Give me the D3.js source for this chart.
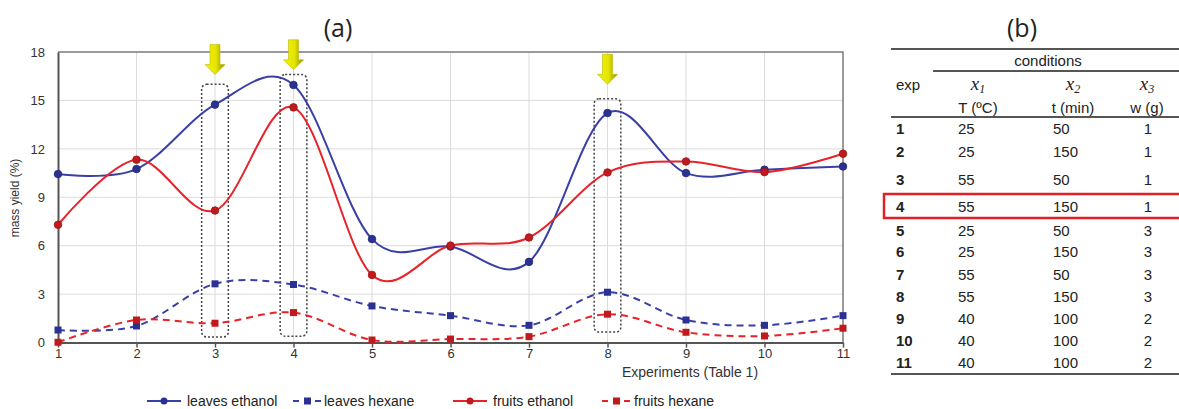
<!DOCTYPE html>
<html>
<head>
<meta charset="utf-8">
<script src="https://cdn.jsdelivr.net/npm/d3@7"></script>
<style>
  html, body { margin: 0; padding: 0; background: #fff; }
  svg { display: block; font-family: "Liberation Sans", Arial, sans-serif; }
</style>
</head>
<body>
<svg id="fig" width="1179" height="409"></svg>
<script>
// ---- data ----
const experiments   = [1, 2, 3, 4, 5, 6, 7, 8, 9, 10, 11];
const leavesEthanol = [10.44, 10.75, 14.74, 15.96, 6.41, 5.95, 5.0, 14.22, 10.5, 10.71, 10.91];
const leavesHexane  = [0.78, 1.03, 3.64, 3.6, 2.27, 1.67, 1.07, 3.12, 1.4, 1.07, 1.67];
const fruitsEthanol = [7.3, 11.33, 8.18, 14.57, 4.19, 6.01, 6.51, 10.54, 11.22, 10.56, 11.7];
const fruitsHexane  = [0.02, 1.4, 1.2, 1.86, 0.16, 0.22, 0.37, 1.76, 0.64, 0.41, 0.89];
const yTicks = [0, 3, 6, 9, 12, 15, 18];

// highlighted experiments (dotted boxes + arrows), extents in yield units
const highlightExp    = [3, 4, 8];
const highlightTop    = [16.0, 16.6, 15.1];
const highlightBottom = [0.35, 0.4, 0.65];
const arrowTip        = [16.6, 16.9, 16.0];

// experimental design table
const tempC   = [25, 25, 55, 55, 25, 25, 55, 55, 40, 40, 40];
const timeMin = [50, 150, 50, 150, 50, 150, 50, 150, 100, 100, 100];
const weightG = [1, 1, 1, 1, 3, 3, 3, 3, 2, 2, 2];
const bestRun = 4;

const series = [
  { name: "leaves ethanol", values: leavesEthanol, color: "#3a3fa6", mark: "#2a3190", dashed: false },
  { name: "leaves hexane",  values: leavesHexane,  color: "#3a3fa6", mark: "#2a3190", dashed: true },
  { name: "fruits ethanol", values: fruitsEthanol, color: "#e8222a", mark: "#c01a1e", dashed: false },
  { name: "fruits hexane",  values: fruitsHexane,  color: "#e8222a", mark: "#c01a1e", dashed: true }
];

const svg = d3.select("#fig");

// ---- panel (a): line chart ----
const x = d3.scaleLinear().domain([1, 11]).range([58, 843]);
const y = d3.scaleLinear().domain([0, 18]).range([342.6, 52]);

const defs = svg.append("defs");
const grad = defs.append("linearGradient").attr("id", "arrowFill")
  .attr("x1", "0%").attr("x2", "100%").attr("y1", "0%").attr("y2", "0%");
grad.append("stop").attr("offset", "0%").attr("stop-color", "#f4f400");
grad.append("stop").attr("offset", "55%").attr("stop-color", "#e4e400");
grad.append("stop").attr("offset", "100%").attr("stop-color", "#8f8f00");

svg.append("text").attr("x", 338).attr("y", 37).attr("text-anchor", "middle")
  .attr("font-family", "'Open Sans', sans-serif").attr("font-size", 25).attr("fill", "#222")
  .text("(a)");

// grid
const grid = svg.append("g").attr("stroke", "#dcdcdc").attr("stroke-width", 1);
grid.selectAll("line.v").data(experiments.slice(1, -1)).join("line")
  .attr("x1", d => x(d)).attr("x2", d => x(d)).attr("y1", y(18)).attr("y2", y(0));
grid.selectAll("line.h").data(yTicks.slice(1, -1)).join("line")
  .attr("x1", x(1)).attr("x2", x(11)).attr("y1", d => y(d)).attr("y2", d => y(d));

// frame (top and right)
svg.append("path")
  .attr("d", `M${x(1)},${y(18)}H${x(11)}V${y(0)}`)
  .attr("fill", "none").attr("stroke", "#7a7a7a").attr("stroke-width", 1.5);

// axes
const xAxis = d3.axisBottom(x).tickValues(experiments).tickFormat(d3.format("d"))
  .tickSize(5).tickSizeOuter(0);
const gx = svg.append("g").attr("transform", `translate(0,${y(0)})`).call(xAxis);
gx.select(".domain").attr("stroke", "#555").attr("stroke-width", 2);
gx.selectAll(".tick line").attr("stroke", "#555").attr("stroke-width", 1.5);
gx.selectAll(".tick text").attr("font-size", 13).attr("fill", "#333")
  .attr("font-family", "'Liberation Sans', Arial, sans-serif").attr("dy", "0.6em");

const yAxis = d3.axisLeft(y).tickValues(yTicks).tickSize(0).tickPadding(13);
const gy = svg.append("g").attr("transform", `translate(${x(1)},0)`).call(yAxis);
gy.select(".domain").attr("stroke", "#555").attr("stroke-width", 2);
gy.selectAll(".tick text").attr("font-size", 13).attr("fill", "#333")
  .attr("font-family", "'Liberation Sans', Arial, sans-serif");

svg.append("text").attr("transform", "translate(19,198) rotate(-90)")
  .attr("text-anchor", "middle").attr("font-size", 12).attr("fill", "#333")
  .text("mass yield (%)");

svg.append("text").attr("x", 690).attr("y", 377).attr("text-anchor", "middle")
  .attr("font-size", 14).attr("fill", "#333").text("Experiments (Table 1)");

// dotted highlight boxes
svg.append("g").selectAll("rect").data(highlightExp).join("rect")
  .attr("x", d => x(d - 0.17)).attr("width", x(1.34) - x(1))
  .attr("y", (d, i) => y(highlightTop[i]))
  .attr("height", (d, i) => y(highlightBottom[i]) - y(highlightTop[i]))
  .attr("rx", 5).attr("ry", 5)
  .attr("fill", "none").attr("stroke", "#444").attr("stroke-width", 1.5)
  .attr("stroke-dasharray", "2,2");

// series lines
const line = d3.line().x((d, i) => x(experiments[i])).y(d => y(d))
  .curve(d3.curveCardinal.tension(0));
svg.append("g").selectAll("path").data(series).join("path")
  .attr("d", s => line(s.values))
  .attr("fill", "none").attr("stroke", s => s.color).attr("stroke-width", 2)
  .attr("stroke-dasharray", s => s.dashed ? "7,5" : null);

// markers
series.forEach(s => {
  const g = svg.append("g");
  if (s.dashed) {
    g.selectAll("rect").data(s.values).join("rect")
      .attr("x", (d, i) => x(experiments[i]) - 3.5).attr("y", d => y(d) - 3.5)
      .attr("width", 7).attr("height", 7).attr("fill", s.mark);
  } else {
    g.selectAll("circle").data(s.values).join("circle")
      .attr("cx", (d, i) => x(experiments[i])).attr("cy", d => y(d)).attr("r", 3.8)
      .attr("fill", s.mark).attr("stroke", d3.color(s.mark).darker(0.6)).attr("stroke-width", 0.8);
  }
});

// yellow arrows above the boxes
svg.append("g").selectAll("path").data(highlightExp).join("path")
  .attr("d", (d, i) => {
    const cx = x(d), tip = y(arrowTip[i]);
    const top = tip - 30, neck = tip - 10;
    return `M${cx - 5},${top}H${cx + 5}V${neck}H${cx + 10}L${cx},${tip}L${cx - 10},${neck}H${cx - 5}Z`;
  })
  .attr("fill", "url(#arrowFill)").attr("stroke", "#b8b800").attr("stroke-width", 0.6);

// legend
const legendPos = [
  { lx: 147, tx: 187 },
  { lx: 293, tx: 324 },
  { lx: 453, tx: 493 },
  { lx: 602, tx: 634 }
];
const lg = svg.append("g");
series.forEach((s, i) => {
  const p = legendPos[i];
  const ly = 401;
  if (s.dashed) {
    lg.append("line").attr("x1", p.lx).attr("x2", p.lx + 28).attr("y1", ly).attr("y2", ly)
      .attr("stroke", s.color).attr("stroke-width", 2).attr("stroke-dasharray", "6,5");
    lg.append("rect").attr("x", p.lx + 11).attr("y", ly - 3.5).attr("width", 7).attr("height", 7)
      .attr("fill", s.mark);
  } else {
    lg.append("line").attr("x1", p.lx).attr("x2", p.lx + 34).attr("y1", ly).attr("y2", ly)
      .attr("stroke", s.color).attr("stroke-width", 2);
    lg.append("circle").attr("cx", p.lx + 17).attr("cy", ly).attr("r", 3.5).attr("fill", s.mark);
  }
  lg.append("text").attr("x", p.tx).attr("y", ly + 4.5).attr("font-size", 14).attr("fill", "#222")
    .text(s.name);
});

// ---- panel (b): design table ----
svg.append("text").attr("x", 1022).attr("y", 37).attr("text-anchor", "middle")
  .attr("font-family", "'Open Sans', sans-serif").attr("font-size", 25).attr("fill", "#222")
  .text("(b)");

const tb = svg.append("g").attr("font-size", 15).attr("fill", "#222");
const rule = (x1, yy) => tb.append("line").attr("x1", x1).attr("x2", 1179)
  .attr("y1", yy).attr("y2", yy).attr("stroke", "#555").attr("stroke-width", 2);
rule(891, 49);
rule(933, 71);
rule(891, 117);
rule(891, 374);

tb.append("text").attr("x", 1048).attr("y", 66).attr("text-anchor", "middle").text("conditions");
tb.append("text").attr("x", 896).attr("y", 90).text("exp");

const colCenters = [978, 1073, 1147];
const subs = ["1", "2", "3"];
const units = ["T (ºC)", "t (min)", "w (g)"];
colCenters.forEach((cx, i) => {
  const t = tb.append("text").attr("x", cx).attr("y", 90).attr("text-anchor", "middle")
    .attr("font-family", "'Liberation Serif', 'Times New Roman', serif")
    .attr("font-style", "italic").attr("font-size", 19);
  t.append("tspan").text("x");
  t.append("tspan").attr("font-size", 12).attr("dy", 3).text(subs[i]);
  tb.append("text").attr("x", cx).attr("y", 113).attr("text-anchor", "middle").text(units[i]);
});

const rowY = [129, 152, 180, 207, 231, 252, 275, 297, 319, 341, 363];
experiments.forEach((e, i) => {
  const by = rowY[i] + 5;
  tb.append("text").attr("x", 896).attr("y", by).attr("font-weight", "bold").text(e);
  tb.append("text").attr("x", 958).attr("y", by).text(tempC[i]);
  tb.append("text").attr("x", 1053).attr("y", by).text(timeMin[i]);
  tb.append("text").attr("x", 1148).attr("y", by).attr("text-anchor", "middle").text(weightG[i]);
});

// highlight of the best run
const bi = experiments.indexOf(bestRun);
svg.append("rect").attr("x", 884).attr("y", rowY[bi] - 13).attr("width", 300).attr("height", 24)
  .attr("fill", "none").attr("stroke", "#e32028").attr("stroke-width", 2.5);
</script>
</body>
</html>
